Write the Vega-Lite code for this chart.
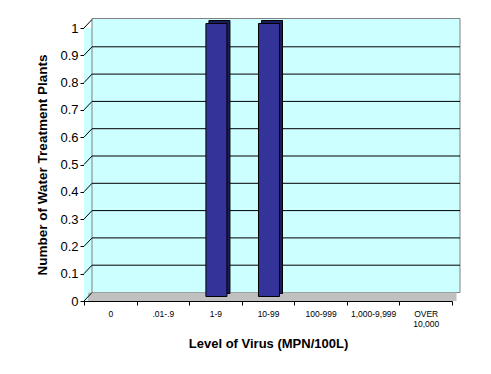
{
  "$schema": "https://vega.github.io/schema/vega-lite/v6.json",
  "width": 368,
  "height": 273,
  "autosize": {"type": "none"},
  "padding": {"left": 84, "top": 28, "right": 39, "bottom": 73},
  "background": "white",
  "config": {
    "view": {"stroke": null},
    "font": "Liberation Sans",
    "axisY": {"grid": false, "labelOverlap": false,
              "labelFontSize": 13, "labelColor": "black", "labelPadding": 2,
              "domainColor": "black", "tickColor": "black", "tickSize": 4,
              "titleFontSize": 13.5, "titleFontWeight": "bold", "titleColor": "black", "titlePadding": 10}
  },
  "datasets": {
    "counts": [
      {"level": "0", "plants": 0},
      {"level": ".01-.9", "plants": 0},
      {"level": "1-9", "plants": 1},
      {"level": "10-99", "plants": 1},
      {"level": "100-999", "plants": 0},
      {"level": "1,000-9,999", "plants": 0},
      {"level": "OVER 10,000", "plants": 0}
    ],
    "wall": [{"left": 0, "right": 1, "bottom": 0, "top": 1}],
    "grid": [
      {"v": 0, "left": 0, "right": 1},
      {"v": 0.1, "left": 0, "right": 1},
      {"v": 0.2, "left": 0, "right": 1},
      {"v": 0.3, "left": 0, "right": 1},
      {"v": 0.4, "left": 0, "right": 1},
      {"v": 0.5, "left": 0, "right": 1},
      {"v": 0.6, "left": 0, "right": 1},
      {"v": 0.7, "left": 0, "right": 1},
      {"v": 0.8, "left": 0, "right": 1},
      {"v": 0.9, "left": 0, "right": 1},
      {"v": 1, "left": 0, "right": 1}
    ]
  },
  "resolve": {"scale": {"x": "independent"}},
  "layer": [
    {
      "data": {"name": "wall"},
      "mark": {"type": "rect", "fill": "#ccffff"},
      "encoding": {
        "x": {"field": "left", "type": "quantitative", "scale": {"domain": [0, 1]}, "axis": null},
        "x2": {"field": "right"},
        "y": {"field": "bottom", "type": "quantitative", "scale": {"domain": [0, 1]}, "title": "Number of Water Treatment Plants",
              "axis": {"values": [0, 0.1, 0.2, 0.3, 0.4, 0.5, 0.6, 0.7, 0.8, 0.9, 1], "format": ".1~f", "labelOverlap": false}},
        "y2": {"field": "top"}
      }
    },
    {
      "data": {"name": "wall"},
      "mark": {"type": "rect", "fill": "#ccffff", "stroke": "#808080", "strokeWidth": 1,
               "xOffset": 8, "x2Offset": 8, "yOffset": -8.5, "y2Offset": -9.5},
      "encoding": {
        "x": {"field": "left", "type": "quantitative", "scale": {"domain": [0, 1]}, "axis": null},
        "x2": {"field": "right"},
        "y": {"field": "bottom", "type": "quantitative", "title": "Number of Water Treatment Plants",
              "axis": {"values": [0, 0.1, 0.2, 0.3, 0.4, 0.5, 0.6, 0.7, 0.8, 0.9, 1], "format": ".1~f", "labelOverlap": false}},
        "y2": {"field": "top"}
      }
    },
    {
      "data": {"name": "wall"},
      "mark": {"type": "rect", "fill": "#c0c0c0", "xOffset": 4, "x2Offset": 4.5, "yOffset": 0, "y2Offset": -8.5},
      "encoding": {
        "x": {"field": "left", "type": "quantitative", "scale": {"domain": [0, 1]}, "axis": null},
        "x2": {"field": "right"},
        "y": {"field": "bottom", "type": "quantitative", "title": "Number of Water Treatment Plants",
              "axis": {"values": [0, 0.1, 0.2, 0.3, 0.4, 0.5, 0.6, 0.7, 0.8, 0.9, 1], "format": ".1~f", "labelOverlap": false}},
        "y2": {"field": "bottom"}
      }
    },
    {
      "data": {"name": "grid"},
      "transform": [{"filter": "datum.v > 0 && datum.v < 1"}],
      "mark": {"type": "rule", "color": "black", "strokeWidth": 1,
               "xOffset": 8, "x2Offset": 8, "yOffset": -8.5, "y2Offset": -8.5},
      "encoding": {
        "x": {"field": "left", "type": "quantitative", "scale": {"domain": [0, 1]}, "axis": null},
        "x2": {"field": "right"},
        "y": {"field": "v", "type": "quantitative", "title": "Number of Water Treatment Plants",
              "axis": {"values": [0, 0.1, 0.2, 0.3, 0.4, 0.5, 0.6, 0.7, 0.8, 0.9, 1], "format": ".1~f", "labelOverlap": false}},
        "y2": {"field": "v"}
      }
    },
    {
      "data": {"name": "grid"},
      "mark": {"type": "rule", "color": "black", "strokeWidth": 1, "x2Offset": 8, "y2Offset": -8.5},
      "encoding": {
        "x": {"field": "left", "type": "quantitative", "scale": {"domain": [0, 1]}, "axis": null},
        "x2": {"field": "left"},
        "y": {"field": "v", "type": "quantitative", "title": "Number of Water Treatment Plants",
              "axis": {"values": [0, 0.1, 0.2, 0.3, 0.4, 0.5, 0.6, 0.7, 0.8, 0.9, 1], "format": ".1~f", "labelOverlap": false}},
        "y2": {"field": "v"}
      }
    },
    {
      "data": {"name": "counts"},
      "transform": [{"filter": "datum.plants > 0"}],
      "mark": {"type": "bar", "fill": "#1c1c5c", "stroke": "black", "strokeWidth": 1,
               "width": {"band": 0.4}, "xOffset": 4, "yOffset": -7.5, "y2Offset": -5},
      "encoding": {
        "x": {"field": "level", "type": "nominal", "sort": null,
              "scale": {"domain": ["0", ".01-.9", "1-9", "10-99", "100-999", "1,000-9,999", "OVER 10,000"], "paddingInner": 0, "paddingOuter": 0},
              "axis": null},
        "y": {"field": "plants", "type": "quantitative", "title": "Number of Water Treatment Plants",
              "axis": {"values": [0, 0.1, 0.2, 0.3, 0.4, 0.5, 0.6, 0.7, 0.8, 0.9, 1], "format": ".1~f", "labelOverlap": false}}
      }
    },
    {
      "data": {"name": "counts"},
      "transform": [{"filter": "datum.plants > 0"}],
      "mark": {"type": "bar", "fill": "#333399", "stroke": "black", "strokeWidth": 1,
               "width": {"band": 0.4}, "xOffset": 1, "yOffset": -4.5, "y2Offset": -2},
      "encoding": {
        "x": {"field": "level", "type": "nominal", "sort": null,
              "scale": {"domain": ["0", ".01-.9", "1-9", "10-99", "100-999", "1,000-9,999", "OVER 10,000"], "paddingInner": 0, "paddingOuter": 0},
              "axis": {"labelAngle": 0, "tickBand": "extent", "labelFontSize": 8.5, "labelColor": "black",
                       "labelExpr": "split(datum.label, ' ')", "labelLineHeight": 10, "labelPadding": 4,
                       "domainColor": "black", "tickColor": "black", "tickSize": 4,
                       "title": "Level of Virus (MPN/100L)", "titleFontSize": 13, "titleFontWeight": "bold",
                       "titleColor": "black", "titlePadding": 10}},
        "y": {"field": "plants", "type": "quantitative", "title": "Number of Water Treatment Plants",
              "axis": {"values": [0, 0.1, 0.2, 0.3, 0.4, 0.5, 0.6, 0.7, 0.8, 0.9, 1], "format": ".1~f", "labelOverlap": false}}
      }
    }
  ]
}
